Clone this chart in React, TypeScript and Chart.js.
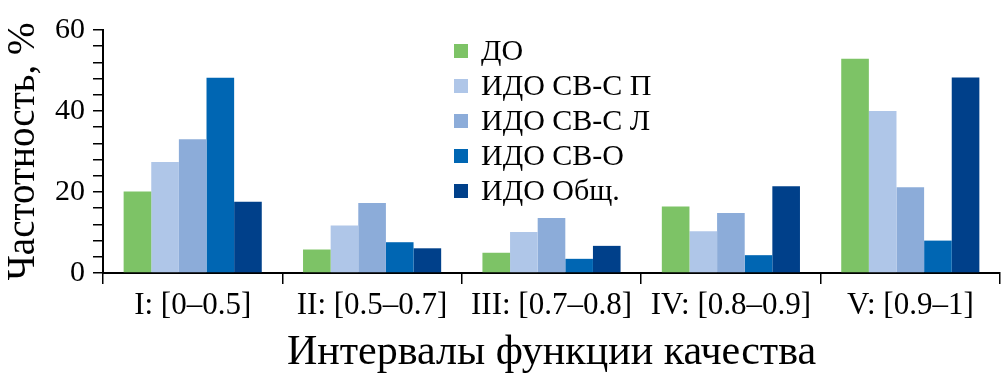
import React, { useEffect, useRef } from "react";
import { Chart, registerables } from "chart.js";

Chart.register(...registerables);

const categories = ["I: [0–0.5]", "II: [0.5–0.7]", "III: [0.7–0.8]", "IV: [0.8–0.9]", "V: [0.9–1]"];
const seriesLabels = ["ДО", "ИДО СВ-С П", "ИДО СВ-С Л", "ИДО СВ-О", "ИДО Общ."];
const doValues = [20.1, 5.8, 5.0, 16.4, 52.9];
const idoSvsP = [27.4, 11.7, 10.1, 10.3, 40.0];
const idoSvsL = [33.0, 17.3, 13.6, 14.8, 21.2];
const idoSvO = [48.2, 7.6, 3.5, 4.4, 8.0];
const idoObsh = [17.6, 6.1, 6.7, 21.4, 48.3];
const seriesColors = ["#7DC366", "#AFC6E8", "#8CACD9", "#0066B3", "#00408A"];
const yTickLabels = [0, 20, 40, 60];
const xTitle = "Интервалы функции качества";
const yTitle = "Частотность, %";

const FONT = "'Liberation Serif', 'Times New Roman', serif";

const insideLegend = {
  id: "insideLegend",
  afterDraw(chart: any) {
    const ctx = chart.ctx;
    ctx.save();
    ctx.font = `30px ${FONT}`;
    ctx.textBaseline = "middle";
    ctx.textAlign = "left";
    chart.data.datasets.forEach((ds: any, i: number) => {
      const y = 51 + i * 35;
      ctx.fillStyle = ds.backgroundColor;
      ctx.fillRect(454, y - 7, 14, 14);
      ctx.fillStyle = "#000";
      ctx.fillText(ds.label, 481, y + 1);
    });
    ctx.restore();
  },
};

export default function App() {
  const ref = useRef<HTMLCanvasElement>(null);
  useEffect(() => {
    document.body.style.margin = "0";
    const values = [doValues, idoSvsP, idoSvsL, idoSvO, idoObsh];
    const chart = new Chart(ref.current as HTMLCanvasElement, {
      type: "bar",
      data: {
        labels: categories,
        datasets: values.map((v, i) => ({
          label: seriesLabels[i],
          data: v,
          backgroundColor: seriesColors[i],
          borderWidth: 0,
          categoryPercentage: 0.77,
          barPercentage: 1.0,
        })),
      },
      options: {
        responsive: false,
        animation: false,
        layout: { padding: { top: 30, right: 4, left: 0, bottom: 0 } },
        plugins: { legend: { display: false }, tooltip: { enabled: false } },
        scales: {
          x: {
            ticks: { font: { family: FONT, size: 31 }, color: "#000", padding: 3, maxRotation: 0, autoSkip: false },
            grid: { offset: true, drawOnChartArea: false, drawTicks: true, tickLength: 11, color: "#000", lineWidth: 1.5 },
            border: { color: "#000", width: 2 },
            title: { display: true, text: xTitle, color: "#000", font: { family: FONT, size: 42 }, padding: 0 },
            afterFit: (s: any) => { s.height = 105; },
          },
          y: {
            min: 0,
            max: 60,
            ticks: {
              stepSize: 4,
              autoSkip: false,
              font: { family: FONT, size: 30 },
              color: "#000",
              padding: 8,
              callback: (v: any) => (yTickLabels.includes(Number(v)) ? String(v) : ""),
            },
            grid: { drawOnChartArea: false, drawTicks: true, tickLength: 10, color: "#000", lineWidth: 1.5 },
            border: { color: "#000", width: 2 },
            title: { display: true, text: yTitle, color: "#000", font: { family: FONT, size: 39 }, padding: 0 },
            afterFit: (s: any) => { s.width = 103; },
          },
        },
      },
      plugins: [insideLegend],
    });
    return () => chart.destroy();
  }, []);
  return (
    <div style={{ width: 1004, height: 378 }}>
      <canvas ref={ref} width={1004} height={378} />
    </div>
  );
}
